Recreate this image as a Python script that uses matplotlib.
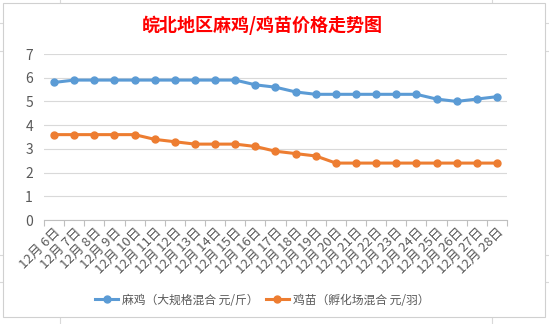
import numpy as np
import matplotlib
matplotlib.use('Agg')
import matplotlib.pyplot as plt
from matplotlib.patches import Rectangle

plt.rcParams['font.family'] = ['Noto Sans CJK SC', 'DejaVu Sans']

dates = [f'12月 {d}日' for d in range(6, 29)]
maji = [5.8, 5.9, 5.9, 5.9, 5.9, 5.9, 5.9, 5.9, 5.9, 5.9, 5.7, 5.6, 5.4,
        5.3, 5.3, 5.3, 5.3, 5.3, 5.3, 5.1, 5.0, 5.1, 5.2]
jimiao = [3.6, 3.6, 3.6, 3.6, 3.6, 3.4, 3.3, 3.2, 3.2, 3.2, 3.1, 2.9, 2.8,
          2.7, 2.4, 2.4, 2.4, 2.4, 2.4, 2.4, 2.4, 2.4, 2.4]
labels = ['麻鸡（大规格混合 元/斤）', '鸡苗（孵化场混合 元/羽）']
title = '皖北地区麻鸡/鸡苗价格走势图'

COL_BLUE = '#5B9BD5'
COL_ORANGE = '#ED7D31'
W, H = 549, 324

fig = plt.figure(figsize=(W / 100, H / 100), dpi=100)
fig.patch.set_facecolor('white')

# spreadsheet cell lines peeking around the chart
for x in [60, 492]:
    fig.add_artist(plt.Line2D([x / W, x / W], [0, 1], color='#d9d9d9', lw=0.8, zorder=-3))
for y in [23, 51, 255, 282]:
    fig.add_artist(plt.Line2D([0, 1], [1 - y / H, 1 - y / H], color='#d9d9d9', lw=0.8, zorder=-3))
fig.add_artist(Rectangle((3 / W, 1 - 317 / H), 542 / W, 314 / H, transform=fig.transFigure,
                         facecolor='white', edgecolor='#d0d0d0', lw=0.8, zorder=-2))

ax = fig.add_axes([44 / W, 1 - 220 / H, 463 / W, 166 / H])
ax.set_facecolor('none')
x = np.arange(len(dates))
ax.plot(x, maji, '-o', color=COL_BLUE, lw=2.2, ms=5, label=labels[0], zorder=3)
ax.plot(x, jimiao, '-o', color=COL_ORANGE, lw=2.2, ms=5, label=labels[1], zorder=3)

ax.set_xlim(-0.5, len(dates) - 0.5)
ax.set_ylim(0, 7)
ax.set_yticks(range(8))
ax.grid(axis='y', color='#d9d9d9', lw=0.8)
ax.set_axisbelow(True)
for s in ['top', 'right', 'left']:
    ax.spines[s].set_visible(False)
ax.spines['bottom'].set_color('#bfbfbf')
ax.spines['bottom'].set_linewidth(0.8)
ax.tick_params(axis='y', length=0, labelsize=10, labelcolor='#595959', pad=8)

ax.set_xticks(np.arange(-0.5, len(dates)), minor=False)
ax.set_xticklabels([])
ax.tick_params(axis='x', which='major', length=4, color='#bfbfbf', width=0.8)
ax.set_xticks(x, minor=True)
ax.set_xticklabels(dates, minor=True, rotation=45, ha='right', va='top',
                   rotation_mode='anchor', fontsize=9.5, color='#595959')
ax.tick_params(axis='x', which='minor', length=0, pad=4)

fig.text(262 / W, 1 - 25 / H, title, color='red', fontsize=13, fontweight='bold',
         ha='center', va='center')

fig.legend(loc='center', bbox_to_anchor=(262 / W, 1 - 300 / H), ncol=2, frameon=False,
           fontsize=8.5, handlelength=2.0, columnspacing=0.6, handletextpad=0.3,
           labelcolor='#595959')

fig.savefig('out.png', dpi=100)
